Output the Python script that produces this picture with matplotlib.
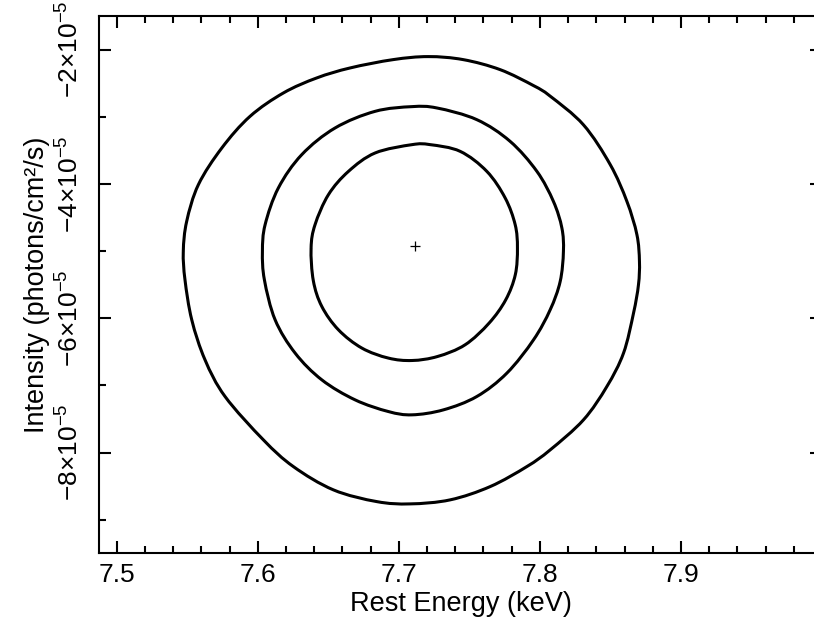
import numpy as np
import matplotlib
matplotlib.use('Agg')
import matplotlib.pyplot as plt
from matplotlib.path import Path
from matplotlib.patches import PathPatch
from matplotlib.ticker import MultipleLocator, FixedLocator

plt.rcParams['font.family'] = ['Liberation Sans', 'DejaVu Sans']
plt.rcParams['mathtext.fontset'] = 'custom'
plt.rcParams['mathtext.rm'] = 'Liberation Sans'
plt.rcParams['mathtext.it'] = 'Liberation Sans:italic'

# best fit (energy in keV, intensity in 1e-5 photons/cm2/s)
best_e = 7.7116
best_i = -4.92

# confidence contours, traced clockwise from the left edge
outer_e = [7.5472, 7.5496, 7.5579, 7.5745, 7.5945, 7.6182, 7.6418, 7.6655, 7.6960,
           7.7208, 7.7456, 7.7718, 7.7955, 7.8073, 7.8309, 7.8499, 7.8617, 7.8688,
           7.8706, 7.8699, 7.8664, 7.8593, 7.8475, 7.8309, 7.8073, 7.7908, 7.7648,
           7.7364, 7.7080, 7.6844, 7.6536, 7.6252, 7.6040, 7.5768, 7.5626, 7.5532,
           7.5484]
outer_i = [-5.005, -4.558, -4.011, -3.465, -2.994, -2.645, -2.422, -2.273, -2.149,
           -2.104, -2.149, -2.298, -2.536, -2.693, -3.120, -3.713, -4.260, -4.756,
           -5.154, -5.501, -5.923, -6.519, -7.016, -7.513, -7.960, -8.208, -8.506,
           -8.704, -8.764, -8.730, -8.555, -8.208, -7.811, -7.165, -6.619, -6.023,
           -5.427]

middle_e = [7.6033, 7.6052, 7.6146, 7.6312, 7.6548, 7.6832, 7.7094, 7.7270, 7.7553,
            7.7789, 7.7979, 7.8096, 7.8156, 7.8167, 7.8144, 7.8073, 7.7955, 7.7766,
            7.7553, 7.7316, 7.7094, 7.6926, 7.6690, 7.6454, 7.6265, 7.6123, 7.6047]
middle_i = [-5.005, -4.607, -4.060, -3.564, -3.167, -2.919, -2.849, -2.869, -3.043,
            -3.366, -3.813, -4.260, -4.656, -5.005, -5.452, -5.874, -6.321, -6.817,
            -7.165, -7.364, -7.438, -7.389, -7.215, -6.917, -6.519, -6.023, -5.427]

inner_e = [7.6378, 7.6406, 7.6501, 7.6643, 7.6832, 7.7094, 7.7222, 7.7435, 7.7624,
           7.7754, 7.7825, 7.7841, 7.7826, 7.7758, 7.7640, 7.7470, 7.7275, 7.7094,
           7.6926, 7.6738, 7.6572, 7.6454, 7.6394]
inner_i = [-4.954, -4.607, -4.160, -3.813, -3.539, -3.415, -3.415, -3.515, -3.813,
           -4.209, -4.607, -4.954, -5.350, -5.725, -6.072, -6.395, -6.569, -6.629,
           -6.593, -6.444, -6.172, -5.824, -5.442]

contours = [(outer_e, outer_i), (middle_e, middle_i), (inner_e, inner_i)]

y_ticks = [-8, -6, -4, -2]
y_ticklabels = ['$%d$×$10^{-5}$' % v for v in y_ticks]
x_ticks = [7.5, 7.6, 7.7, 7.8, 7.9]
x_ticklabels = ['7.5', '7.6', '7.7', '7.8', '7.9']


def closed_smooth_path(xs, ys):
    # closed Catmull-Rom curve written as cubic Bezier segments
    p = np.column_stack([xs, ys])
    n = len(p)
    verts = [p[0]]
    codes = [Path.MOVETO]
    for k in range(n):
        p0, p1, p2, p3 = p[k - 1], p[k], p[(k + 1) % n], p[(k + 2) % n]
        verts += [p1 + (p2 - p0) / 6.0, p2 - (p3 - p1) / 6.0, p2]
        codes += [Path.CURVE4] * 3
    return Path(verts, codes)


fig = plt.figure(figsize=(8.14, 6.26), dpi=100)
ax = fig.add_axes([0.122, 0.1161, 0.8878, 0.8583])

for xs, ys in contours:
    ys_abs = np.array(ys) * 1e-5
    patch = PathPatch(closed_smooth_path(xs, ys_abs), facecolor='none',
                      edgecolor='black', lw=2.2)
    ax.add_patch(patch)

ax.plot([best_e], [best_i * 1e-5], marker='+', color='black', ms=6.5, mew=0.9)

ax.set_xlim(7.48766, 8.0)
ax.set_ylim(-9.5e-5, -1.5e-5)

ax.xaxis.set_major_locator(FixedLocator(x_ticks))
ax.set_xticklabels(x_ticklabels)
ax.xaxis.set_minor_locator(MultipleLocator(0.02))
ax.yaxis.set_major_locator(FixedLocator([v * 1e-5 for v in y_ticks]))
ax.set_yticklabels(y_ticklabels, rotation=90, va='center')
ax.yaxis.set_minor_locator(MultipleLocator(1e-5))

ax.tick_params(which='both', direction='in', top=True, right=True, width=1.5,
               labelsize=19, colors='black')
ax.tick_params(which='major', length=8.6)
ax.tick_params(which='minor', length=4.8)
ax.tick_params(axis='x', pad=7)
ax.tick_params(axis='y', pad=11)
for s in ax.spines.values():
    s.set_linewidth(1.5)

ax.set_xlabel('Rest Energy (keV)', fontsize=19.5, labelpad=3)
ax.set_ylabel('Intensity (photons/cm²/s)', fontsize=19.5, labelpad=5)

fig.savefig('out.png', dpi=100)
